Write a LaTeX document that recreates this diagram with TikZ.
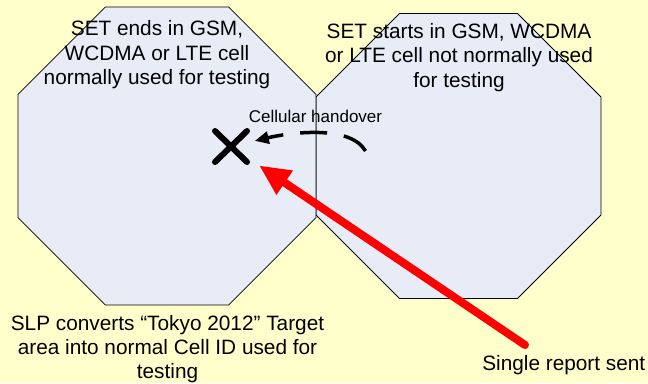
\documentclass[tikz,border=0pt]{standalone}
\usepackage{fontspec}
\setmainfont{Liberation Sans}
\usepackage{xcolor}
\usetikzlibrary{shapes.geometric,shapes.misc,arrows.meta}

\definecolor{paper}{RGB}{255,255,204}
\definecolor{cellfill}{RGB}{231,236,247}
\definecolor{reportred}{RGB}{255,0,0}

\begin{document}
\begin{tikzpicture}[x=1pt, y=-1pt,
                    cell/.style={regular polygon, regular polygon sides=8, draw, line width=0.8pt,
                                 fill=cellfill, inner sep=0pt},
                    caption/.style={align=center, inner sep=0pt,
                                    font=\fontsize{20.8}{24.5}\selectfont}]

% Background
\fill[paper] (0,0) rectangle (648,383);
\useasboundingbox (0,0) rectangle (648,383);

% The two cells
\node[cell, minimum size=308.4pt] (startcell) at (458.5,156) {};
\node[cell, minimum size=322.5pt] (endcell) at (167,156) {};

% Cell texts
\node[caption] (endtext) at (157,55.1) {SET ends in GSM,\\ WCDMA or LTE cell\\ normally used for testing};
\node[caption] (starttext) at (459,57.4) {SET starts in GSM, WCDMA\\ or LTE cell not normally used\\ for testing};

% Position fix
\node[cross out, draw, line width=6pt, line cap=round, minimum width=26pt, minimum height=25pt,
      inner sep=0pt] (mark) at (231,146.5) {};

% Handover
\node[inner sep=0pt, anchor=base, font=\fontsize{17}{20}\selectfont] (handlabel) at (315.5,122.7) {Cellular handover};
\coordinate (handstart) at (365.5,151);
\draw[line width=3.5pt, dash pattern=on 27pt off 17pt, -{Triangle[length=14pt,width=12pt]},
      shorten >=8pt] (handstart) .. controls (350,124) and (288,133) .. (mark);

% Bottom texts
\node[caption, font=\fontsize{20.8}{24}\selectfont] (convert) at (167.5,349.4) {SLP converts “Tokyo 2012” Target\\ area into normal Cell ID used for\\ testing};
\node[caption, anchor=base east] (report) at (645.5,370.7) {Single report sent};

% Report
\coordinate (sendpt) at (525,345);
\draw[line width=8pt, reportred, line cap=round, -{Triangle[length=31pt,width=27pt]},
      shorten >=14.5pt] (sendpt) -- (mark);

\end{tikzpicture}
\end{document}
